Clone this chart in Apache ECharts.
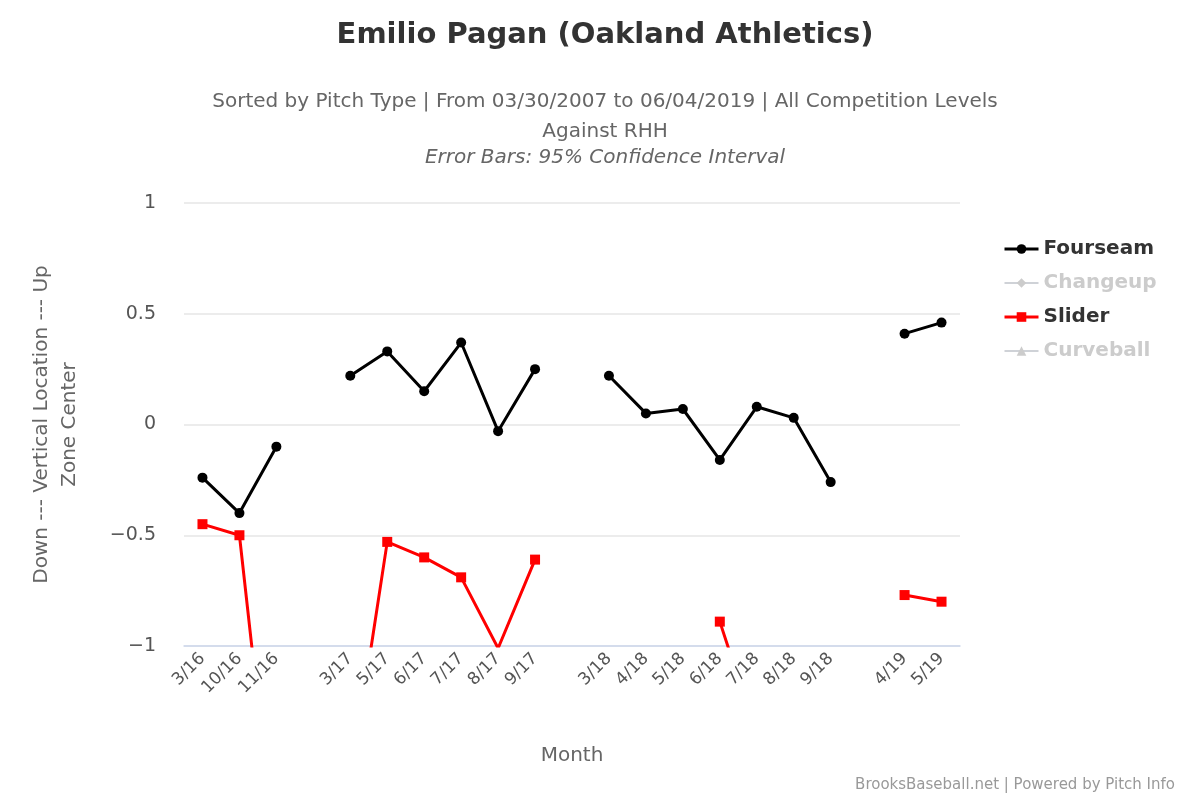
<!DOCTYPE html>
<html>
<head>
<meta charset="utf-8">
<script src="https://cdn.jsdelivr.net/npm/echarts@6/dist/echarts.min.js"></script>
<style>html,body{margin:0;padding:0;background:#fff}#chart{width:1200px;height:800px}</style>
</head>
<body>
<div id="chart"></div>
<script>
var months = ['3/16','10/16','11/16','', '3/17','5/17','6/17','7/17','8/17','9/17','', '3/18','4/18','5/18','6/18','7/18','8/18','9/18','', '4/19','5/19'];
var fourseam = [-0.24,-0.40,-0.10,null, 0.22,0.33,0.15,0.37,-0.03,0.25,null, 0.22,0.05,0.07,-0.16,0.08,0.03,-0.26,null, 0.41,0.46];
var slider = [-0.45,-0.50,-2.0,null, -1.62,-0.53,-0.60,-0.69,-1.01,-0.61,null, null,null,null,-0.89,-1.4,null,null,null, -0.77,-0.80];
var yTicks = [-1, -0.5, 0, 0.5, 1];

var myChart = echarts.init(document.getElementById('chart'));
var font = 'DejaVu Sans';
var option = {
    animation: false,
    textStyle: { fontFamily: font },
    title: [
        { text: 'Emilio Pagan (Oakland Athletics)', left: 600, top: 16, textAlign: 'center',
          textStyle: { fontSize: 29, fontWeight: 'bold', color: '#333', fontFamily: font } },
        { text: 'Sorted by Pitch Type | From 03/30/2007 to 06/04/2019 | All Competition Levels\nAgainst RHH', left: 600, top: 82, textAlign: 'center',
          textStyle: { fontSize: 20, fontWeight: 'normal', color: '#666', lineHeight: 30, fontFamily: font } },
        { text: 'Error Bars: 95% Confidence Interval', left: 600, top: 143, textAlign: 'center',
          textStyle: { fontSize: 20, fontWeight: 'normal', fontStyle: 'italic', color: '#666', fontFamily: font } },
        { text: 'BrooksBaseball.net | Powered by Pitch Info', right: 20, top: 773,
          textStyle: { fontSize: 15, fontWeight: 'normal', color: '#999', fontFamily: font } }
    ],
    legend: {
        orient: 'vertical', left: 998, top: 234, itemGap: 14, itemWidth: 34, itemHeight: 12,
        textStyle: { fontSize: 20, fontWeight: 'bold', color: '#333' },
        inactiveColor: '#ccc',
        itemStyle: {}, lineStyle: { width: 3 },
        data: ['Fourseam', 'Changeup', 'Slider', 'Curveball'],
        selected: { Changeup: false, Curveball: false }
    },
    grid: { left: 184, right: 240, top: 203, bottom: 154 },
    xAxis: {
        type: 'category', data: months, boundaryGap: true,
        name: 'Month', nameLocation: 'middle', nameGap: 100,
        nameTextStyle: { fontSize: 20, color: '#666' },
        axisLine: { onZero: false, lineStyle: { color: '#ccd6eb', width: 1.5 } },
        axisTick: { show: false },
        axisLabel: { rotate: 45, fontSize: 17, color: '#555', interval: 0, margin: 10 }
    },
    yAxis: {
        type: 'value', min: yTicks[0], max: yTicks[yTicks.length - 1], interval: 0.5,
        name: 'Down --- Vertical Location --- Up\nZone Center', nameLocation: 'middle', nameGap: 100,
        nameTextStyle: { fontSize: 20, color: '#666', lineHeight: 28 },
        axisLabel: { fontSize: 19, color: '#555', margin: 28, formatter: function (v) { return String(v).replace('-', '−'); } },
        splitLine: { lineStyle: { color: '#e6e6e6', width: 1.5 } },
        axisLine: { show: false }, axisTick: { show: false }
    },
    series: [
        { name: 'Fourseam', type: 'line', data: fourseam, symbol: 'circle', symbolSize: 10,
          color: '#000', lineStyle: { width: 3 }, clip: true },
        { name: 'Changeup', type: 'line', data: [], symbol: 'diamond', symbolSize: 10, color: '#ccc', lineStyle: { width: 3 } },
        { name: 'Slider', type: 'line', data: slider, symbol: 'rect', symbolSize: 10,
          color: '#f00', lineStyle: { width: 3 }, clip: true },
        { name: 'Curveball', type: 'line', data: [], symbol: 'triangle', symbolSize: 10, color: '#ccc', lineStyle: { width: 3 } }
    ]
};
myChart.setOption(option);
</script>
</body>
</html>
